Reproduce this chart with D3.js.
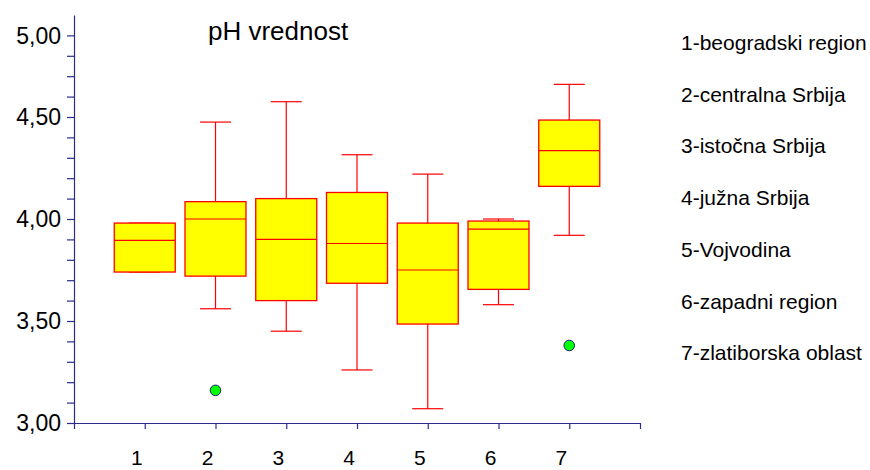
<!DOCTYPE html>
<html lang="sr">
<head>
    <meta charset="UTF-8">
    <title>pH vrednost</title>
    <script src="https://d3js.org/d3.v7.min.js"></script>
    <style>
        body { margin: 0; background: #fff; }
        text { font-family: "Liberation Sans", Arial, sans-serif; fill: #000; }
    </style>
</head>
<body>

<svg id="chart"></svg>

<script>
// Daten
var categories = [1, 2, 3, 4, 5, 6, 7];
var regions = ["1-beogradski region", "2-centralna Srbija", "3-istočna Srbija", "4-južna Srbija",
               "5-Vojvodina", "6-zapadni region", "7-zlatiborska oblast"];
var whiskerMin = [3.74, 3.56, 3.45, 3.26, 3.07, 3.58, 3.92];
var q1 =         [3.74, 3.72, 3.60, 3.685, 3.485, 3.655, 4.16];
var median =     [3.895, 4.00, 3.90, 3.88, 3.75, 3.95, 4.335];
var q3 =         [3.98, 4.085, 4.10, 4.13, 3.98, 3.99, 4.485];
var whiskerMax = [3.98, 4.475, 4.575, 4.315, 4.22, 4.00, 4.66];
var outlierCat = [2, 7];
var outlierVal = [3.16, 3.38];
var yTickValues = [3.0, 3.5, 4.0, 4.5, 4.9];
var yTickLabels = ["3,00", "3,50", "4,00", "4,50", "5,00"];
var title = "pH vrednost";

var width = 870;
var height = 470;
var axisColor = "#2b2b90";

var svg = d3.select("#chart")
    .attr("width", width)
    .attr("height", height);

// Skalen
var x = d3.scaleLinear().domain([0, 8]).range([74, 640]);
var y = d3.scaleLinear().domain([3, 5]).range([423, 15]);
var boxWidth = 61;
var capWidth = 31;

// Achsen
var yAxis = svg.append("g")
    .attr("transform", "translate(74,0)")
    .call(d3.axisLeft(y)
        .tickValues(d3.range(30, 50).map(function(d) { return d / 10; }))
        .tickSize(7).tickSizeOuter(0)
        .tickFormat(""));
yAxis.selectAll("line, path").attr("stroke", axisColor).attr("stroke-width", 1.2);

var xAxis = svg.append("g")
    .attr("transform", "translate(0,423)")
    .call(d3.axisBottom(x)
        .tickValues(d3.range(0, 9))
        .tickSize(6).tickSizeOuter(0)
        .tickFormat(""));
xAxis.selectAll("line, path").attr("stroke", axisColor).attr("stroke-width", 1.2);

svg.selectAll(".ylabel")
    .data(yTickValues)
    .enter().append("text")
    .attr("class", "ylabel")
    .attr("x", 61)
    .attr("y", function(d) { return y(d); })
    .attr("dy", "0.36em")
    .attr("text-anchor", "end")
    .style("font-size", "23px")
    .text(function(d, i) { return yTickLabels[i]; });

svg.selectAll(".xlabel")
    .data(categories)
    .enter().append("text")
    .attr("class", "xlabel")
    .attr("x", function(d) { return x(d) - 8; })
    .attr("y", 465)
    .attr("text-anchor", "middle")
    .style("font-size", "21px")
    .text(function(d) { return d; });

// Boxplots
var box = svg.selectAll(".box")
    .data(categories)
    .enter().append("g")
    .attr("class", "box");

// Whisker
box.append("line")
    .attr("x1", function(d) { return x(d); })
    .attr("x2", function(d) { return x(d); })
    .attr("y1", function(d, i) { return y(whiskerMax[i]); })
    .attr("y2", function(d, i) { return y(whiskerMin[i]); })
    .attr("stroke", "#ff0000").attr("stroke-width", 1.2);

box.append("line")
    .attr("x1", function(d) { return x(d) - capWidth / 2; })
    .attr("x2", function(d) { return x(d) + capWidth / 2; })
    .attr("y1", function(d, i) { return y(whiskerMax[i]); })
    .attr("y2", function(d, i) { return y(whiskerMax[i]); })
    .attr("stroke", "#ff0000").attr("stroke-width", 1.2);

box.append("line")
    .attr("x1", function(d) { return x(d) - capWidth / 2; })
    .attr("x2", function(d) { return x(d) + capWidth / 2; })
    .attr("y1", function(d, i) { return y(whiskerMin[i]); })
    .attr("y2", function(d, i) { return y(whiskerMin[i]); })
    .attr("stroke", "#ff0000").attr("stroke-width", 1.2);

box.append("rect")
    .attr("x", function(d) { return x(d) - boxWidth / 2; })
    .attr("y", function(d, i) { return y(q3[i]); })
    .attr("width", boxWidth)
    .attr("height", function(d, i) { return y(q1[i]) - y(q3[i]); })
    .attr("fill", "#ffff00")
    .attr("stroke", "#ff0000")
    .attr("stroke-width", 1.3);

box.append("line")
    .attr("x1", function(d) { return x(d) - boxWidth / 2; })
    .attr("x2", function(d) { return x(d) + boxWidth / 2; })
    .attr("y1", function(d, i) { return y(median[i]); })
    .attr("y2", function(d, i) { return y(median[i]); })
    .attr("stroke", "#ff0000").attr("stroke-width", 1.2);

// Ausreißer
svg.selectAll(".outlier")
    .data(outlierVal)
    .enter().append("circle")
    .attr("class", "outlier")
    .attr("cx", function(d, i) { return x(outlierCat[i]); })
    .attr("cy", function(d) { return y(d); })
    .attr("r", 5.3)
    .attr("fill", "#00ff00")
    .attr("stroke", "#1a1a80")
    .attr("stroke-width", 1);

// Titel
svg.append("text")
    .attr("x", 208)
    .attr("y", 40)
    .style("font-size", "26px")
    .text(title);

// Legende
svg.selectAll(".legend")
    .data(regions)
    .enter().append("text")
    .attr("class", "legend")
    .attr("x", 681)
    .attr("y", function(d, i) { return 50 + i * 51.7; })
    .style("font-size", "21px")
    .text(function(d) { return d; });
</script>

</body>
</html>
